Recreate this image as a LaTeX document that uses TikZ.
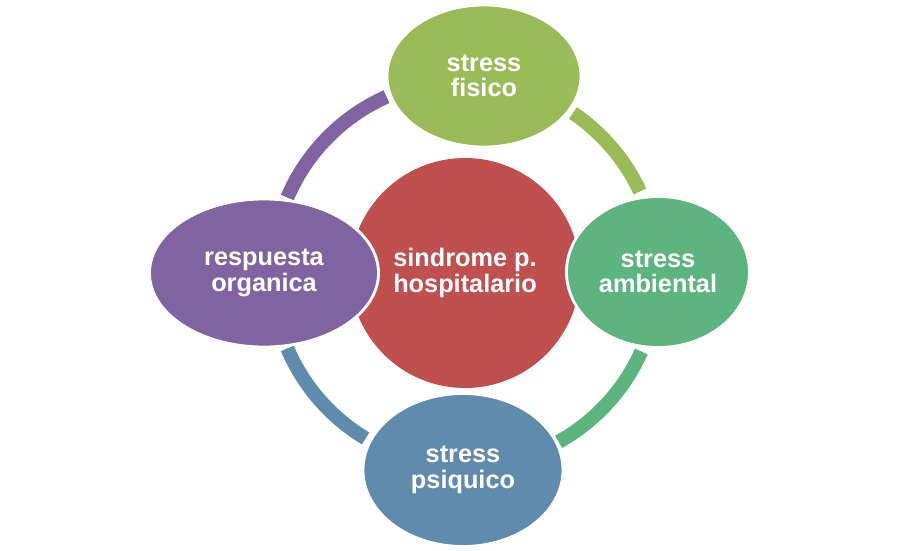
\documentclass[tikz,border=0pt]{standalone}
\usepackage{fontspec}
\setmainfont{Liberation Sans}
\usetikzlibrary{shapes.geometric}
\definecolor{hospRed}{HTML}{C0504D}
\definecolor{hospOlive}{HTML}{9BBB59}
\definecolor{hospGreen}{HTML}{5DB47E}
\definecolor{hospBlue}{HTML}{5F8BAD}
\definecolor{hospPurple}{HTML}{8064A2}

\begin{document}
\begin{tikzpicture}[
    ringarc/.style={line width=8pt},
    bubble/.style={ellipse, draw=white, line width=1.6pt, inner sep=0pt, align=center,
        text=white, font=\fontsize{14.4}{14.6}\selectfont\bfseries}
  ]
            \useasboundingbox (-9.3,-5.56) rectangle (8.7,5.46);
            % ring behind the bubbles
            \coordinate (hub) at (0,0);
            \draw[ringarc, hospOlive] ([shift={(56:3.86)}]hub) arc[start angle=56, end angle=25, radius=3.86];
            \draw[ringarc, hospGreen] ([shift={(-24:3.86)}]hub) arc[start angle=-24, end angle=-61, radius=3.86];
            \draw[ringarc, hospBlue] ([shift={(-121:3.86)}]hub) arc[start angle=-121, end angle=-157, radius=3.86];
            \draw[ringarc, hospPurple] ([shift={(157:3.86)}]hub) arc[start angle=157, end angle=114, radius=3.86];
            % centre
            \node[bubble, circle, draw=none, fill=hospRed, minimum size=4.6cm] (sindrome) at (hub) {sindrome p.\\hospitalario};
            % outer bubbles
            \node[bubble, fill=hospOlive, minimum width=3.88cm, minimum height=2.84cm] (fisico) at (0.38,3.94) {stress\\fisico};
            \node[bubble, fill=hospGreen, minimum width=3.66cm, minimum height=3.02cm] (ambiental) at (3.86,0.02) {stress\\ambiental};
            \node[bubble, fill=hospBlue, minimum width=4.0cm, minimum height=3.06cm] (psiquico) at (-0.04,-3.94) {stress\\psiquico};
            \node[bubble, fill=hospPurple, minimum width=4.58cm, minimum height=2.96cm] (organica) at (-4.02,0) {respuesta\\organica};
        \end{tikzpicture}
\end{document}
